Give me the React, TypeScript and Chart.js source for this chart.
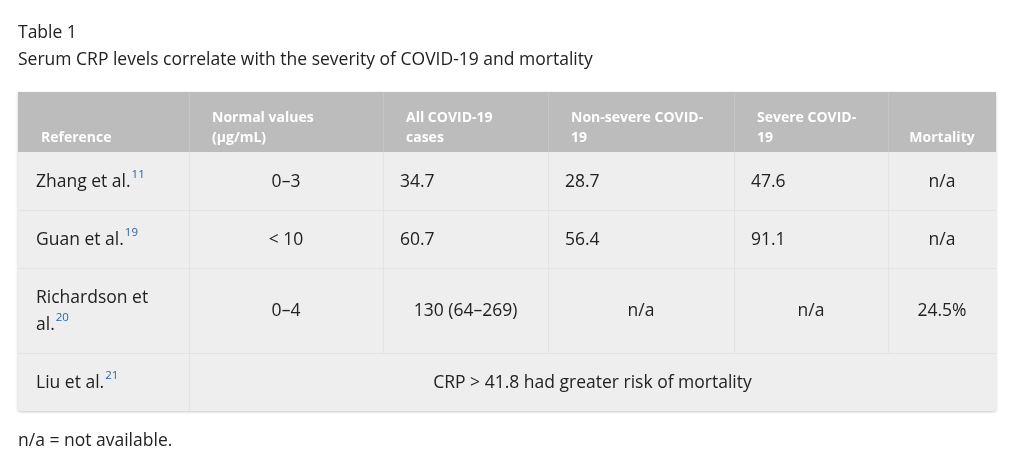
import React, { useEffect, useRef } from "react";
import { Chart, registerables } from "chart.js";

Chart.register(...registerables);

// ---- table content ----
const tableLabel = "Table 1";
const tableTitle = "Serum CRP levels correlate with the severity of COVID-19 and mortality";
const footnote = "n/a = not available.";
const headerLines: string[][] = [
  ["Reference"],
  ["Normal values", "(µg/mL)"],
  ["All COVID-19", "cases"],
  ["Non-severe COVID-", "19"],
  ["Severe COVID-", "19"],
  ["Mortality"],
];
const referenceLines: string[][] = [
  ["Zhang et al."],
  ["Guan et al."],
  ["Richardson et", "al."],
  ["Liu et al."],
];
const citations = ["11", "19", "20", "21"];
const normalValues = ["0–3", "< 10", "0–4"];
const allCases = ["34.7", "60.7", "130 (64–269)"];
const nonSevere = ["28.7", "56.4", "n/a"];
const severe = ["47.6", "91.1", "n/a"];
const mortality = ["n/a", "n/a", "24.5%"];
const liuNote = "CRP > 41.8 had greater risk of mortality";

// ---- layout (pixel-space values mapped through the chart's scales) ----
const W = 1010;
const H = 462;
const colEdges = [18, 189, 383, 548, 734, 888, 996];
const rowEdges = [92, 152, 210, 268, 353, 411];
const headerAlign = ["left", "left", "left", "left", "left", "center"];
const rowAligns = [
  ["left", "center", "left", "left", "left", "center"],
  ["left", "center", "left", "left", "left", "center"],
  ["left", "center", "center", "center", "center", "center"],
];
const FONT = '"Open Sans", "DejaVu Sans", sans-serif';

export default function App() {
  const ref = useRef<HTMLCanvasElement | null>(null);

  useEffect(() => {
    document.body.style.margin = "0";
    const canvas = ref.current;
    if (!canvas) return;

    const tablePlugin = {
      id: "tablePlugin",
      beforeDraw(chart: any) {
        const ctx: CanvasRenderingContext2D = chart.ctx;
        const xs = chart.scales.x;
        const ys = chart.scales.y;
        const X = (v: number) => xs.getPixelForValue(v);
        const Y = (v: number) => ys.getPixelForValue(v);

        ctx.save();
        ctx.fillStyle = "#ffffff";
        ctx.fillRect(0, 0, chart.width, chart.height);

        // titles
        ctx.fillStyle = "#222222";
        ctx.textBaseline = "middle";
        ctx.textAlign = "left";
        ctx.font = `17.5px ${FONT}`;
        ctx.fillText(tableLabel, X(18), Y(33));
        ctx.fillText(tableTitle, X(18), Y(60));
        ctx.fillText(footnote, X(18), Y(441));

        const L = X(colEdges[0]);
        const R = X(colEdges[colEdges.length - 1]);
        const T = Y(rowEdges[0]);
        const B = Y(rowEdges[rowEdges.length - 1]);

        // shadow + body
        ctx.save();
        ctx.shadowColor = "rgba(0,0,0,0.22)";
        ctx.shadowBlur = 3;
        ctx.shadowOffsetX = 0;
        ctx.shadowOffsetY = 1;
        ctx.fillStyle = "#eeeeee";
        ctx.beginPath();
        (ctx as any).roundRect(L, T, R - L, B - T, [0, 0, 3, 3]);
        ctx.fill();
        ctx.restore();

        // header
        const HB = Y(rowEdges[1]);
        ctx.fillStyle = "#bcbcbc";
        ctx.fillRect(L, T, R - L, HB - T);

        // header column separators
        ctx.strokeStyle = "#c6c6c6";
        ctx.lineWidth = 1;
        for (let c = 1; c < colEdges.length - 1; c++) {
          const x = Math.round(X(colEdges[c])) + 0.5;
          ctx.beginPath();
          ctx.moveTo(x, T);
          ctx.lineTo(x, HB);
          ctx.stroke();
        }

        // body separators
        ctx.strokeStyle = "#e3e3e3";
        for (let r = 2; r < rowEdges.length - 1; r++) {
          const y = Math.round(Y(rowEdges[r])) + 0.5;
          ctx.beginPath();
          ctx.moveTo(L, y);
          ctx.lineTo(R, y);
          ctx.stroke();
        }
        for (let c = 1; c < colEdges.length - 1; c++) {
          const x = Math.round(X(colEdges[c])) + 0.5;
          const bottom = c === 1 ? B : Y(rowEdges[4]);
          ctx.beginPath();
          ctx.moveTo(x, HB);
          ctx.lineTo(x, bottom);
          ctx.stroke();
        }

        // header text
        ctx.fillStyle = "#ffffff";
        ctx.font = `bold 14px ${FONT}`;
        const headLH = 20;
        headerLines.forEach((lines, c) => {
          const x0 = X(colEdges[c]);
          const x1 = X(colEdges[c + 1]);
          const lastY = Y(138);
          lines.forEach((ln, i) => {
            const y = lastY - (lines.length - 1 - i) * headLH;
            if (headerAlign[c] === "center") {
              ctx.textAlign = "center";
              ctx.fillText(ln, (x0 + x1) / 2, y);
            } else {
              ctx.textAlign = "left";
              ctx.fillText(ln, x0 + 23, y);
            }
          });
        });

        // body text
        const bodyFont = `17.5px ${FONT}`;
        const supFont = `11.5px ${FONT}`;
        const bodyLH = 27;
        const columns = [normalValues, allCases, nonSevere, severe, mortality];

        referenceLines.forEach((lines, r) => {
          const yc = (Y(rowEdges[r + 1]) + Y(rowEdges[r + 2])) / 2;
          const x0 = X(colEdges[0]) + 18;
          lines.forEach((ln, i) => {
            const y = yc + (i - (lines.length - 1) / 2) * bodyLH + 1;
            ctx.font = bodyFont;
            ctx.textAlign = "left";
            ctx.fillStyle = "#222222";
            ctx.fillText(ln, x0, y);
            if (i === lines.length - 1) {
              const w = ctx.measureText(ln).width;
              ctx.font = supFont;
              ctx.fillStyle = "#2a63aa";
              ctx.fillText(citations[r], x0 + w + 1, y - 7);
            }
          });
        });

        ctx.font = bodyFont;
        ctx.fillStyle = "#222222";
        for (let r = 0; r < 3; r++) {
          const yc = (Y(rowEdges[r + 1]) + Y(rowEdges[r + 2])) / 2 + 1;
          columns.forEach((col, ci) => {
            const c = ci + 1;
            const x0 = X(colEdges[c]);
            const x1 = X(colEdges[c + 1]);
            if (rowAligns[r][c] === "center") {
              ctx.textAlign = "center";
              ctx.fillText(col[r], (x0 + x1) / 2, yc);
            } else {
              ctx.textAlign = "left";
              ctx.fillText(col[r], x0 + 17, yc);
            }
          });
        }
        // spanning note row
        {
          const yc = (Y(rowEdges[4]) + Y(rowEdges[5])) / 2 + 1;
          ctx.textAlign = "center";
          ctx.fillText(liuNote, (X(colEdges[1]) + X(colEdges[6])) / 2, yc);
        }
        ctx.restore();
      },
    };

    const chart = new Chart(canvas, {
      type: "scatter",
      data: { datasets: [] },
      options: {
        animation: false,
        responsive: false,
        maintainAspectRatio: false,
        layout: { padding: 0 },
        events: [],
        plugins: { legend: { display: false }, tooltip: { enabled: false } },
        scales: {
          x: { type: "linear", min: 0, max: W, display: false },
          y: { type: "linear", min: 0, max: H, reverse: true, display: false },
        },
      },
      plugins: [tablePlugin],
    } as any);

    return () => chart.destroy();
  }, []);

  return (
    <div style={{ width: W, height: H }}>
      <canvas ref={ref} width={W} height={H} style={{ display: "block", width: W, height: H }} />
    </div>
  );
}
